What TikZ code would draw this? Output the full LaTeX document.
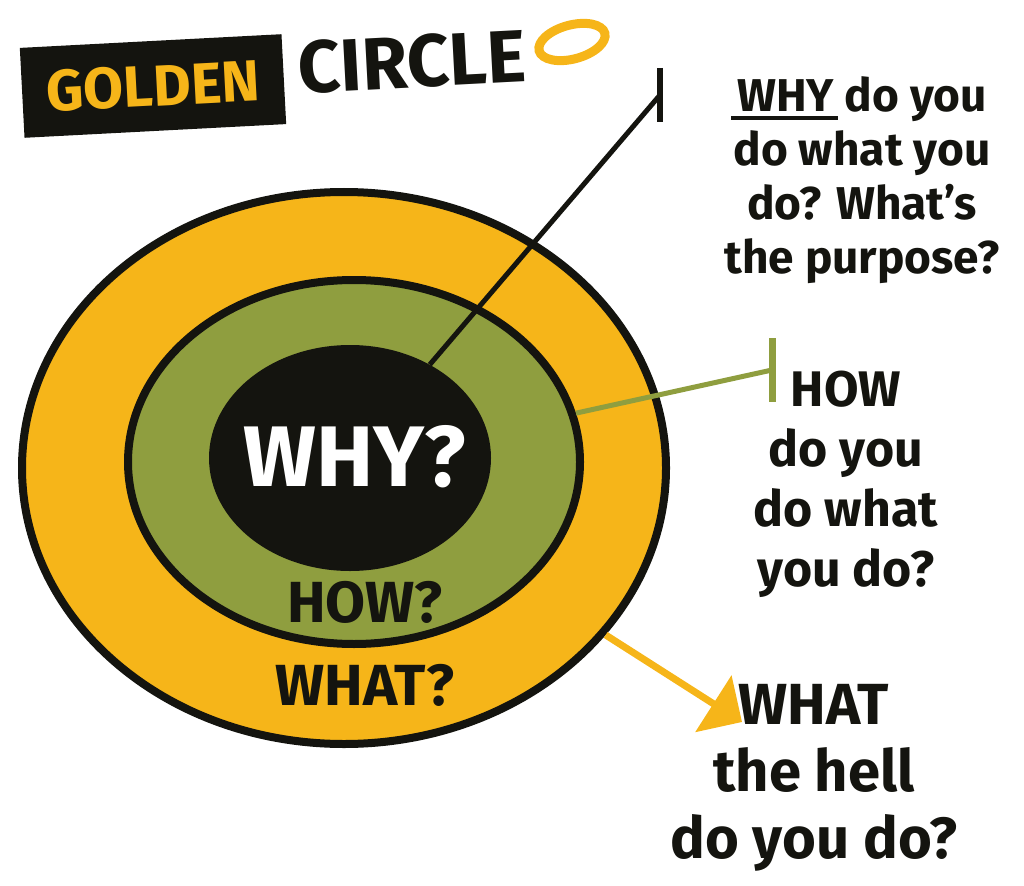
\documentclass[tikz,border=0pt]{standalone}
\usepackage{fontspec}
\setmainfont{Fira Sans}
\usetikzlibrary{positioning,shapes.geometric,arrows.meta}
\definecolor{goldColor}{RGB}{246,181,25}
\definecolor{oliveColor}{RGB}{143,158,63}
\definecolor{inkColor}{RGB}{20,20,15}
\tikzstyle{diagram} = [x=1pt, y=-1pt]
\tikzstyle{ringStyle} = [ellipse, draw=inkColor, line width=8pt, inner sep=0pt]
\tikzstyle{coreStyle} = [ellipse, fill=inkColor, inner sep=0pt]
\tikzstyle{ringText} = [font=\fontsize{58}{58}\selectfont\bfseries, text=inkColor]
\tikzstyle{coreText} = [font=\fontsize{86}{86}\selectfont\bfseries, text=white]
\tikzstyle{noteText} = [font=\fontsize{46}{54}\selectfont\bfseries, align=center, text=inkColor]
\tikzstyle{titleBox} = [fill=inkColor, text=goldColor, font=\fontsize{58}{58}\selectfont\bfseries, minimum width=262pt, minimum height=90pt]
\tikzstyle{titleText} = [text=inkColor, font=\fontsize{74}{74}\selectfont\bfseries]
\tikzstyle{titleRing} = [ellipse, draw=goldColor, line width=9pt, inner sep=0pt]
\tikzstyle{whyLine} = [draw=inkColor, line width=5pt]
\tikzstyle{howLine} = [draw=oliveColor, line width=5pt]
\tikzstyle{whatLine} = [draw=goldColor, line width=7pt, -{Triangle[length=34pt, width=66pt]}]
\newcommand{\markWord}[1]{\setbox0=\hbox{#1}\rlap{\kern-6pt\rule[-9pt]{\dimexpr\wd0+10pt}{4pt}}\box0\relax}
\newcommand{\noteTick}[3]{\draw [#3] (#1) ++(0,-#2) -- ++(0,2*#2);}

\begin{document}
\begin{tikzpicture}[diagram]
  \useasboundingbox (0,0) rectangle (1024,885);

  % title
  \node[titleBox, rotate=3] (golden) at (153,86) {GOLDEN};
  \node[titleText, rotate=3] (circle) at (412,62) {CIRCLE};
  \node[titleRing, rotate=15, minimum width=68pt, minimum height=34pt] (ring) at (572,42) {};

  % rings
  \node[ringStyle, fill=goldColor, minimum width=644pt, minimum height=552pt] (what) at (344,468) {};
  \node[ringStyle, fill=oliveColor, minimum width=452pt, minimum height=364pt] (how) at (354,462) {};
  \node[coreStyle, minimum width=282pt, minimum height=226pt] (why) at (350,458) {};
  \node[coreText] (whyLabel) at (355,457) {WHY?};
  \node[ringText] (howLabel) at (365,602) {HOW?};
  \node[ringText] (whatLabel) at (365,685) {WHAT?};

  % connectors
  \coordinate (whyTick) at (660,95);
  \coordinate (howTick) at (772,370);
  \coordinate (whatTip) at (742,722);
  \draw[whyLine] (why) -- (whyTick);
  \noteTick{whyTick}{27}{whyLine, line width=6pt}
  \draw[howLine] (how) -- (howTick);
  \noteTick{howTick}{32}{howLine, line width=7pt}
  \draw[whatLine] (what) -- (whatTip);

  % notes
  \node[noteText] (whyNote) at (862,180) {\markWord{WHY} do you\\do what you\\do? What’s\\the purpose?};
  \node[noteText, font=\fontsize{50}{60}\selectfont\bfseries] (howNote) at (846,484) {HOW\\do you\\do what\\you do?};
  \node[noteText, font=\fontsize{58}{67}\selectfont\bfseries] (whatNote) at (814,778) {WHAT\\the hell\\do you do?};
\end{tikzpicture}
\end{document}
